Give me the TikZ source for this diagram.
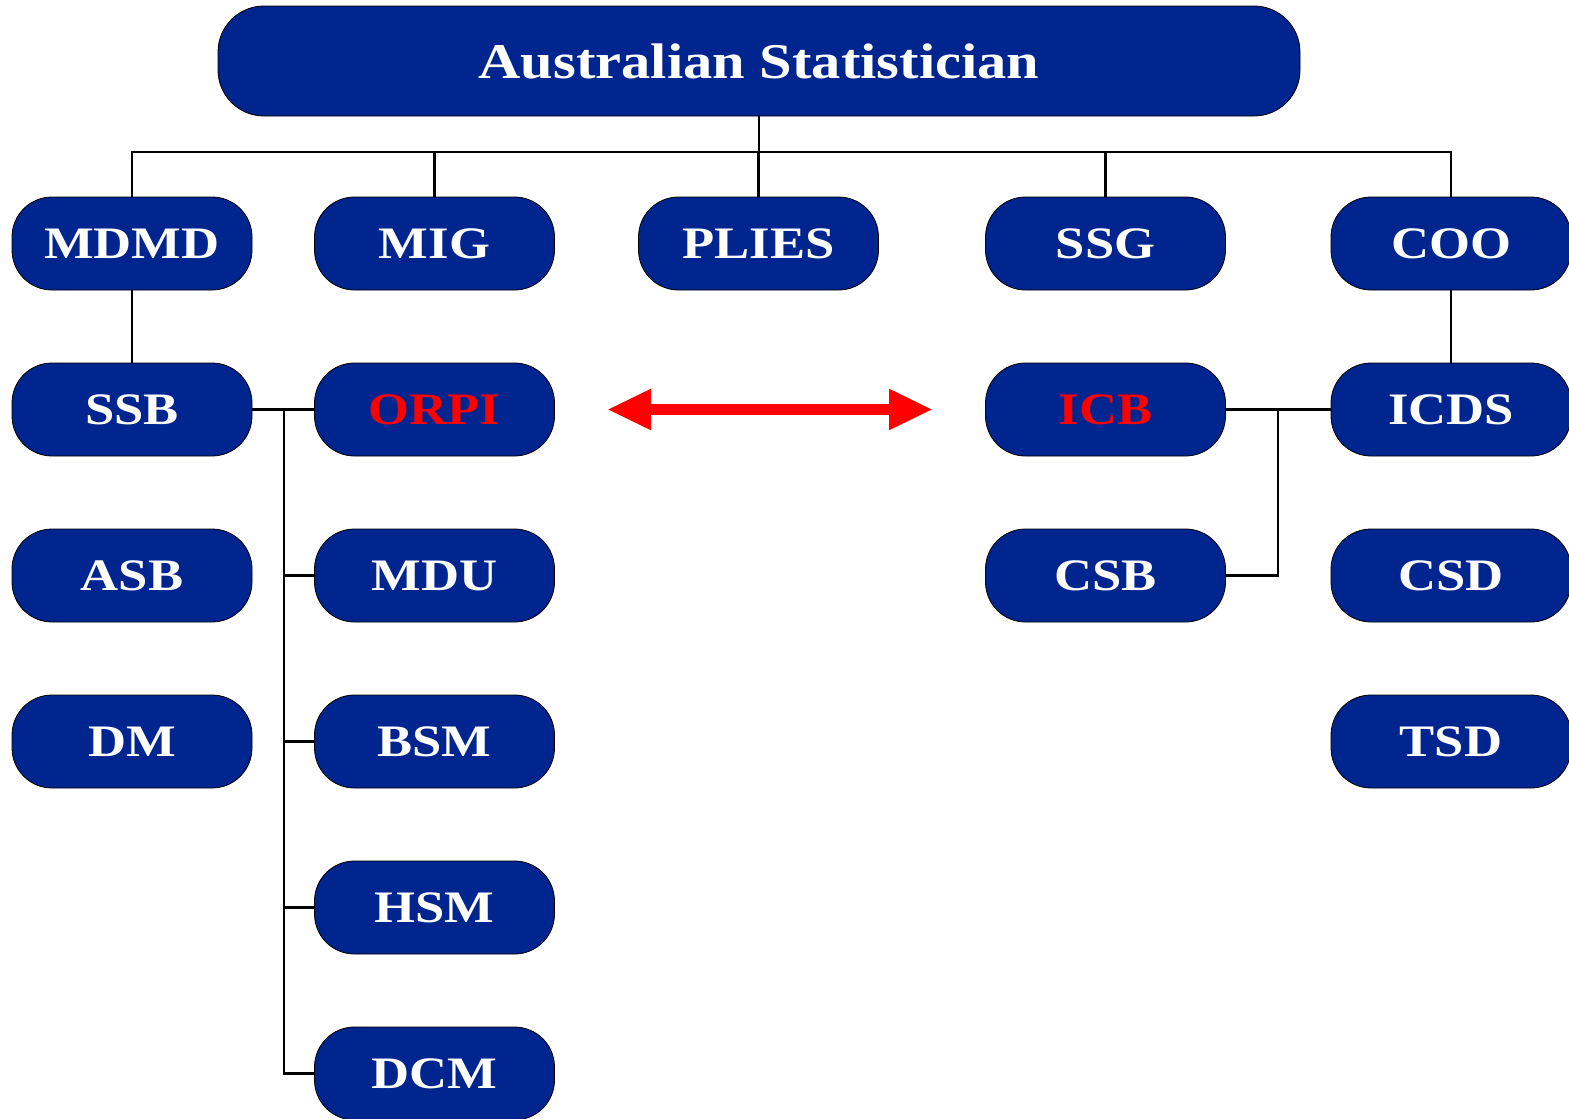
\documentclass[tikz,border=0pt]{standalone}
\usepackage{fontspec}
\setmainfont{Liberation Serif}
\newfontfamily\boxfont{Liberation Serif}[FakeStretch=1.17]
\usetikzlibrary{arrows.meta}
\definecolor{absblue}{HTML}{00258F}
\definecolor{absred}{HTML}{FF0000}
\begin{document}
\begin{tikzpicture}[x=1pt,y=-1pt,line width=2.2pt]

      \useasboundingbox (0,0) rectangle (1569,1119);

      \begin{scope}[every node/.style={draw=black,line width=0.8pt,fill=absblue,text=white,
          rounded corners=40pt,minimum width=240pt,minimum height=93pt,inner sep=0pt,
          font=\boxfont\fontsize{45}{50}\selectfont\bfseries}]
        \node[minimum width=1082pt,minimum height=110pt,rounded corners=46pt,
          font=\boxfont\fontsize{50}{56}\selectfont\bfseries] (title) at (759,61) {Australian Statistician};
        \node (mdmd)  at (132,243.5)   {MDMD};
        \node (mig)   at (434.5,243.5) {MIG};
        \node (plies) at (758.5,243.5) {PLIES};
        \node (ssg)   at (1105.5,243.5) {SSG};
        \node (coo)   at (1451,243.5)  {COO};
        \node (ssb)   at (132,409.5)   {SSB};
        \node[text=absred] (orpi) at (434.5,409.5) {ORPI};
        \node[text=absred] (icb)  at (1105.5,409.5) {ICB};
        \node (icds)  at (1451,409.5)  {ICDS};
        \node (asb)   at (132,575.5)   {ASB};
        \node (mdu)   at (434.5,575.5) {MDU};
        \node (csb)   at (1105.5,575.5) {CSB};
        \node (csd)   at (1451,575.5)  {CSD};
        \node (dm)    at (132,741.5)   {DM};
        \node (bsm)   at (434.5,741.5) {BSM};
        \node (tsd)   at (1451,741.5)  {TSD};
        \node (hsm)   at (434.5,907.5) {HSM};
        \node (dcm)   at (434.5,1073.5) {DCM};
      \end{scope}

      \coordinate (bus)     at (759,152);
      \coordinate (trunk)   at (284,409.5);
      \coordinate (icbjoin) at (1278,409.5);
      \coordinate (arrowl)  at (607,409.5);
      \coordinate (arrowr)  at (933,409.5);

      % top level
      \draw (title.south) -- (bus);
      \draw (mdmd.north) |- (bus) -| (coo.north);
      \draw (mig.north) -- (mig.north |- bus);
      \draw (plies.north) -- (plies.north |- bus);
      \draw (ssg.north) -- (ssg.north |- bus);
      \draw (mdmd) -- (ssb);
      \draw (coo) -- (icds);

      % ORPI group
      \draw (ssb.east) -- (orpi.west);
      \draw (trunk) |- (dcm.west);
      \draw (mdu.west) -- (mdu.west -| trunk);
      \draw (bsm.west) -- (bsm.west -| trunk);
      \draw (hsm.west) -- (hsm.west -| trunk);

      % ICB group
      \draw (icb.east) -- (icds.west);
      \draw (csb.east) -| (icbjoin);

      \draw[absred,line width=11pt,{Triangle[length=44pt,width=38pt]}-{Triangle[length=44pt,width=38pt]}]
        (arrowl) -- (arrowr);

    \end{tikzpicture}
\end{document}
